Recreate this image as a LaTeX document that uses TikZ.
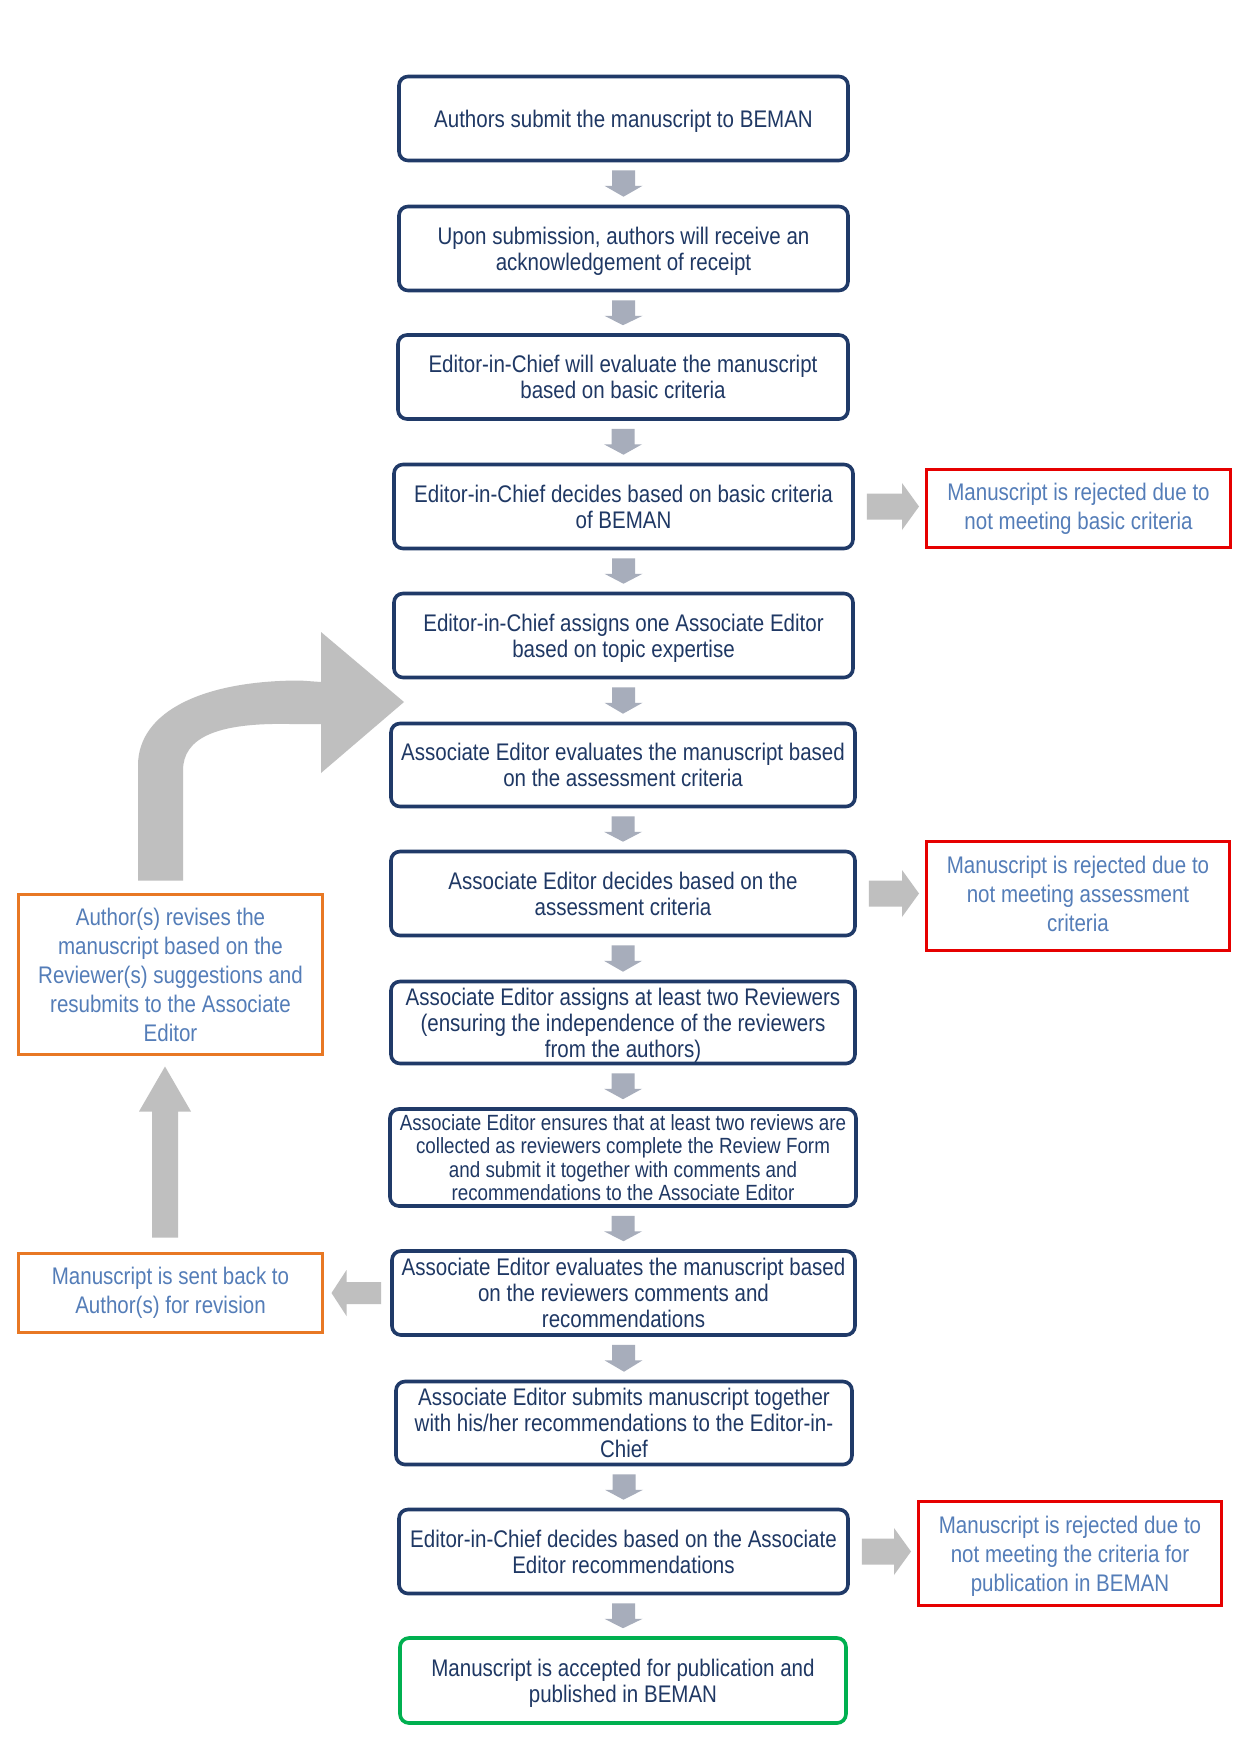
\documentclass[tikz,border=0pt]{standalone}
\usepackage{fontspec}
\setmainfont[FakeStretch=0.855]{Liberation Sans}
\usetikzlibrary{calc}
\definecolor{navy}{RGB}{31,56,100}
\definecolor{navyline}{RGB}{32,58,104}
\definecolor{sideblue}{RGB}{84,125,184}
\definecolor{rejred}{RGB}{230,0,0}
\definecolor{revorange}{RGB}{232,120,36}
\definecolor{accgreen}{RGB}{0,176,80}
\definecolor{dngray}{RGB}{167,173,187}
\definecolor{arrgray}{RGB}{191,191,191}
\begin{document}
\begin{tikzpicture}[x=1pt,y=-1pt,
  mainbox/.style={draw=navyline, line width=3.6pt, rounded corners=9pt, fill=white, text=navy,
    align=center, inner sep=0pt, text depth=0pt, font=\fontsize{24}{26}\selectfont},
  accbox/.style={mainbox, draw=accgreen},
  rejbox/.style={draw=rejred, line width=3pt, fill=white, text=sideblue, align=center,
    inner sep=0pt, font=\fontsize{24}{29}\selectfont},
  revbox/.style={rejbox, draw=revorange},
  dnfill/.style={fill=dngray},
  sidefill/.style={fill=arrgray}]
\path[use as bounding box, fill=white] (0,0) rectangle (1241,1754);

% main column
\node[mainbox, minimum width=449, minimum height=84] (n1) at (623.5,118.5) {Authors submit the manuscript to BEMAN};
\node[mainbox, minimum width=449, minimum height=84] (n2) at (623.5,248.5) {Upon submission, authors will receive an\\acknowledgement of receipt};
\node[mainbox, minimum width=450, minimum height=84] (n3) at (623,377) {Editor-in-Chief will evaluate the manuscript\\based on basic criteria};
\node[mainbox, minimum width=459, minimum height=84] (n4) at (623.5,506.5) {Editor-in-Chief decides based on basic criteria\\of BEMAN};
\node[mainbox, minimum width=459, minimum height=84] (n5) at (623.5,635.5) {Editor-in-Chief assigns one Associate Editor\\based on topic expertise};
\node[mainbox, minimum width=464, minimum height=83] (n6) at (623,765) {Associate Editor evaluates the manuscript based\\on the assessment criteria};
\node[mainbox, minimum width=464, minimum height=84] (n7) at (623,893.5) {Associate Editor decides based on the\\assessment criteria};
\node[mainbox, minimum width=464, minimum height=82] (n8) at (623,1022.5) {Associate Editor assigns at least two Reviewers\\(ensuring the independence of the reviewers\\from the authors)};
\node[mainbox, minimum width=466, minimum height=97, font=\fontsize{22}{23.5}\selectfont] (n9) at (623,1157.5) {Associate Editor ensures that at least two reviews are\\collected as reviewers complete the Review Form\\and submit it together with comments and\\recommendations to the Associate Editor};
\node[mainbox, minimum width=463, minimum height=84] (n10) at (623.5,1293) {Associate Editor evaluates the manuscript based\\on the reviewers comments and\\recommendations};
\node[mainbox, minimum width=456, minimum height=83] (n11) at (624,1423) {Associate Editor submits manuscript together\\with his/her recommendations to the Editor-in-\\Chief};
\node[mainbox, minimum width=449, minimum height=84] (n12) at (623.5,1551.5) {Editor-in-Chief decides based on the Associate\\Editor recommendations};
\node[accbox, minimum width=446, minimum height=85] (n13) at (623,1680.5) {Manuscript is accepted for publication and\\published in BEMAN};

% side boxes
\node[rejbox, minimum width=304, minimum height=78] (r1) at (1078.5,508.5) {Manuscript is rejected due to\\not meeting basic criteria};
\node[rejbox, minimum width=303, minimum height=109, text depth=4pt] (r2) at (1078,896) {Manuscript is rejected due to\\not meeting assessment\\criteria};
\node[rejbox, minimum width=303, minimum height=104, text depth=0pt] (r3) at (1070,1553.5) {Manuscript is rejected due to\\not meeting the criteria for\\publication in BEMAN};
\node[revbox, minimum width=304, minimum height=160] (v1) at (170.5,974.5) {Author(s) revises the\\manuscript based on the\\Reviewer(s) suggestions and\\resubmits to the Associate\\Editor};
\node[revbox, minimum width=304, minimum height=79] (v2) at (170.5,1293) {Manuscript is sent back to\\Author(s) for revision};

% down arrows
\foreach \a/\b in {n1/n2,n2/n3,n3/n4,n4/n5,n5/n6,n6/n7,n7/n8,n8/n9,n9/n10,n10/n11,n11/n12,n12/n13}{
  \fill[dnfill] ($(\a.south)+(-11.5,8)$) -- ($(\a.south)+(11.5,8)$) -- ($(\a.south)+(11.5,23.5)$)
    -- ($(\a.south)+(19,23.5)$) -- ($(\b.north)+(0,-8)$) -- ($(\a.south)+(-19,23.5)$)
    -- ($(\a.south)+(-11.5,23.5)$) -- cycle;
}

% right arrows to rejection boxes
\foreach \a/\b in {n4/r1,n7/r2,n12/r3}{
  \fill[sidefill] ($(\a.east)+(12,-13)$) -- ($(\a.east -| \b.west)+(-23,-13)$)
    -- ($(\a.east -| \b.west)+(-23,-23.5)$) -- ($(\a.east -| \b.west)+(-6,0)$)
    -- ($(\a.east -| \b.west)+(-23,23.5)$) -- ($(\a.east -| \b.west)+(-23,13)$)
    -- ($(\a.east)+(12,13)$) -- cycle;
}

% left arrow to revision box
\fill[sidefill] ($(n10.west)+(-9,-11)$) -- ($(n10.west -| v2.east)+(22.5,-11)$)
  -- ($(n10.west -| v2.east)+(22.5,-23)$) -- ($(n10.west -| v2.east)+(7.5,0)$)
  -- ($(n10.west -| v2.east)+(22.5,23)$) -- ($(n10.west -| v2.east)+(22.5,11)$)
  -- ($(n10.west)+(-9,11)$) -- cycle;

% up arrow between revision boxes
\fill[sidefill] ($(v2.north)+(-18.5,-14.5)$) -- ($(v1.south)+(-18.5,55.5)$)
  -- ($(v1.south)+(-31.5,55.5)$) -- ($(v1.south)+(-5.5,10.5)$)
  -- ($(v1.south)+(20.5,55.5)$) -- ($(v1.south)+(7.5,55.5)$)
  -- ($(v2.north)+(7.5,-14.5)$) -- cycle;

% bent arrow back to the associate editor stage
\coordinate (bendtip) at (404,702);
\fill[sidefill] ($(v1.north)+(-32.5,-12.5)$) -- ($(v1.north)+(-32.5,-127.5)$)
  .. controls ($(v1.north)+(-32.5,-182.5)$) and ($(v1.north)+(34.5,-212.5)$) .. ($(v1.north)+(129.5,-212.5)$)
  -- ($(bendtip)+(-83,-20)$) -- ($(bendtip)+(-83,-70)$) -- (bendtip)
  -- ($(bendtip)+(-83,71)$) -- ($(bendtip)+(-83,22)$) -- ($(bendtip)+(-114,22)$)
  .. controls ($(v1.north)+(44.5,-170.5)$) and ($(v1.north)+(12.5,-154.5)$) .. ($(v1.north)+(12.5,-122.5)$)
  -- ($(v1.north)+(12.5,-12.5)$) -- cycle;
\end{tikzpicture}
\end{document}
